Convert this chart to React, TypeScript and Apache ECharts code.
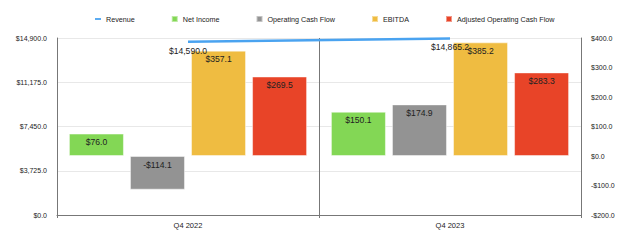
import React, { useEffect, useRef } from "react";
import * as echarts from "echarts";

const categories = ["Q4 2022", "Q4 2023"];
const revenue = [14590.0, 14865.2];
const netIncome = [76.0, 150.1];
const operatingCashFlow = [-114.1, 174.9];
const ebitda = [357.1, 385.2];
const adjustedOperatingCashFlow = [269.5, 283.3];

const fmt = (v: number) =>
  (v < 0 ? "-" : "") +
  "$" +
  Math.abs(v).toLocaleString("en-US", { minimumFractionDigits: 1, maximumFractionDigits: 1 });

const FONT = "'Liberation Sans', Arial, Helvetica, sans-serif";
const BLUE = "#4aa3f0";

export default function App() {
  const ref = useRef<HTMLDivElement>(null);
  useEffect(() => {
    document.body.style.margin = "0";
    if (!ref.current) return;
    const chart = echarts.init(ref.current, undefined, { renderer: "svg" });
    const barLabel = {
      show: true,
      position: "insideTop" as const,
      distance: 4,
      color: "#222",
      fontSize: 8.6,
      fontFamily: FONT,
      formatter: (p: any) => fmt(p.value),
    };
    const bar = (name: string, data: number[], color: string) => ({
      name,
      type: "bar",
      yAxisIndex: 1,
      data,
      barWidth: 55,
      barGap: "11%",
      itemStyle: { color, borderColor: "rgba(255,255,255,0.45)", borderWidth: 1 },
      label: barLabel,
    });
    chart.setOption({
      animation: false,
      textStyle: { fontFamily: FONT },
      legend: {
        top: 10,
        left: 90,
        itemGap: 36,
        itemWidth: 6,
        itemHeight: 6,
        textStyle: { fontSize: 7.2, color: "#222", fontFamily: FONT },
        data: [
          {
            name: "Revenue",
            icon: "path://M0,0h10v3h-10z",
            itemStyle: { color: BLUE, opacity: 1 },
          },
          { name: "Net Income", icon: "rect" },
          { name: "Operating Cash Flow", icon: "rect" },
          { name: "EBITDA", icon: "rect" },
          { name: "Adjusted Operating Cash Flow", icon: "rect" },
        ],
      },
      grid: { left: 57, right: 59, top: 38, bottom: 34 },
      xAxis: {
        type: "category",
        data: categories,
        axisLine: { show: true, lineStyle: { color: "#777" } },
        axisTick: { show: true, lineStyle: { color: "#777" }, length: 3 },
        axisLabel: { fontSize: 7.5, color: "#222", fontFamily: FONT, margin: 6 },
        splitLine: { show: true, lineStyle: { color: "#777", width: 1 } },
      },
      yAxis: [
        {
          type: "value",
          min: 0,
          max: 14900,
          interval: 3725,
          axisLine: { show: true, lineStyle: { color: "#777" } },
          axisTick: { show: false },
          axisLabel: { fontSize: 7, color: "#222", fontFamily: FONT, margin: 10, formatter: fmt },
          splitLine: { show: true, lineStyle: { color: "#e8e8e8", width: 1 } },
        },
        {
          type: "value",
          min: -200,
          max: 400,
          interval: 100,
          position: "right",
          axisLine: { show: true, lineStyle: { color: "#777" } },
          axisTick: { show: false },
          axisLabel: { fontSize: 7, color: "#222", fontFamily: FONT, margin: 10, formatter: fmt },
          splitLine: { show: false },
        },
      ],
      series: [
        {
          name: "Revenue",
          type: "line",
          yAxisIndex: 0,
          data: revenue,
          symbol: "circle",
          symbolSize: 1,
          showSymbol: true,
          z: 5,
          lineStyle: { color: BLUE, width: 2.5 },
          itemStyle: { color: "rgba(0,0,0,0)", borderWidth: 0 },
          label: {
            show: true,
            position: "bottom",
            distance: 4,
            color: "#222",
            fontSize: 8.6,
            fontFamily: FONT,
            formatter: (p: any) => fmt(p.value),
          },
        },
        bar("Net Income", netIncome, "#83d755"),
        bar("Operating Cash Flow", operatingCashFlow, "#939393"),
        bar("EBITDA", ebitda, "#efbc41"),
        bar("Adjusted Operating Cash Flow", adjustedOperatingCashFlow, "#e84428"),
      ],
    });
    return () => chart.dispose();
  }, []);
  return <div ref={ref} style={{ width: 640, height: 249 }} />;
}
